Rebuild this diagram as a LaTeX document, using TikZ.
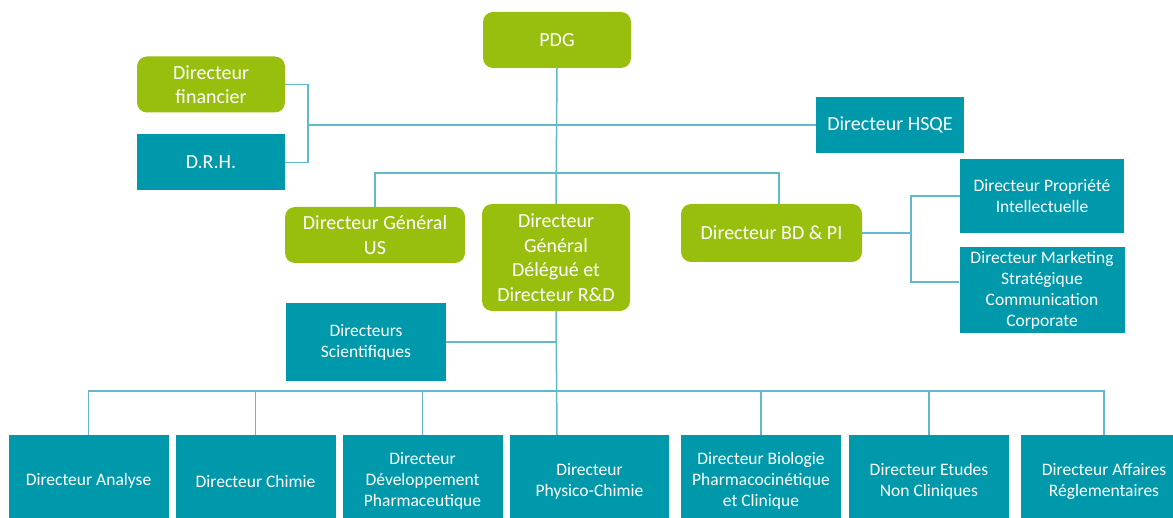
\documentclass[tikz,border=0pt]{standalone}
\usepackage{fontspec}
\setmainfont{Carlito}
\definecolor{vert}{HTML}{98BF0E}
\definecolor{bleu}{HTML}{0099AB}
\definecolor{trait}{HTML}{62B9CB}
\begin{document}
\begin{tikzpicture}[x=1pt,y=-1pt,
	vertbox/.style={fill=vert,rounded corners=10pt,text=white,align=center,inner sep=0pt,font=\fontsize{20}{24.5}\selectfont},
	bleubox/.style={fill=bleu,text=white,align=center,inner sep=0pt,font=\fontsize{20}{24.5}\selectfont},
	petit/.style={font=\fontsize{17.5}{21}\selectfont},
	link/.style={draw=trait,line width=1.5pt}]
	\useasboundingbox (0,0) rectangle (1173,518);

	% Direction
	\node[vertbox,minimum width=148,minimum height=56] (pdg) at (557,40) {PDG};
	\node[vertbox,minimum width=148,minimum height=56] (fin) at (211,84.5) {Directeur\\financier};
	\node[bleubox,minimum width=148,minimum height=56] (drh) at (211,162.5) {D.R.H.};
	\node[bleubox,minimum width=148,minimum height=56] (hsqe) at (890,125) {Directeur HSQE};

	% Niveau 2
	\node[vertbox,minimum width=180,minimum height=56] (us) at (375,235) {Directeur Général\\US};
	\node[vertbox,minimum width=148,minimum height=107] (dgd) at (556,257.5) {Directeur\\Général\\Délégué et\\Directeur R\&D};
	\node[vertbox,minimum width=181,minimum height=58] (bd) at (771.5,233) {Directeur BD \& PI};
	\node[bleubox,petit,minimum width=164,minimum height=74] (pi) at (1042,196) {Directeur Propriété\\Intellectuelle};
	\node[bleubox,petit,minimum width=165,minimum height=86] (mkt) at (1042,290) {Directeur Marketing\\Stratégique\\Communication\\Corporate};
	\node[bleubox,petit,minimum width=160,minimum height=78] (sci) at (366,342) {Directeurs\\Scientifiques};

	% Directions R&D
	\node[bleubox,petit,minimum width=160,minimum height=92] (b1) at (88.5,481) {Directeur Analyse};
	\node[bleubox,petit,minimum width=160,minimum height=92] (b2) at (255.5,481) {Directeur Chimie};
	\node[bleubox,petit,minimum width=160,minimum height=92] (b3) at (422.5,481) {Directeur\\Développement\\Pharmaceutique};
	\node[bleubox,petit,minimum width=159,minimum height=92] (b4) at (589.5,481) {Directeur\\Physico-Chimie};
	\node[bleubox,petit,minimum width=160,minimum height=92] (b5) at (761,481) {Directeur Biologie\\Pharmacocinétique\\et Clinique};
	\node[bleubox,petit,minimum width=160,minimum height=92] (b6) at (929,481) {Directeur Etudes\\Non Cliniques};
	\node[bleubox,petit,minimum width=166,minimum height=92] (b7) at (1104,481) {Directeur Affaires\\Réglementaires};

	% liens
	\coordinate (jfin) at (308,125);
	\coordinate (bar) at (557,173);
	\coordinate (bdtop) at (779,204);
	\coordinate (jbd) at (911,233);
	\coordinate (rd) at (557,391);
	\coordinate (trunk) at (557,435);
	\draw[link] (pdg.south) -- (dgd.north);
	\draw[link] (fin.east) -| (jfin) |- (drh.east);
	\draw[link] (jfin) -- (hsqe.west);
	\draw[link] (us.north) |- (bar) -| (bdtop);
	\draw[link] (bd.east) -- (jbd);
	\draw[link] (pi.west) -| (jbd) |- ([yshift=8pt]mkt.west);
	\draw[link] (sci.east) -- (sci.east -| rd);
	\draw[link] (dgd.south) -- (trunk);
	\foreach \i in {1,2,3,5,6,7}
		\draw[link] (rd) -| (b\i.north);

\end{tikzpicture}
\end{document}
